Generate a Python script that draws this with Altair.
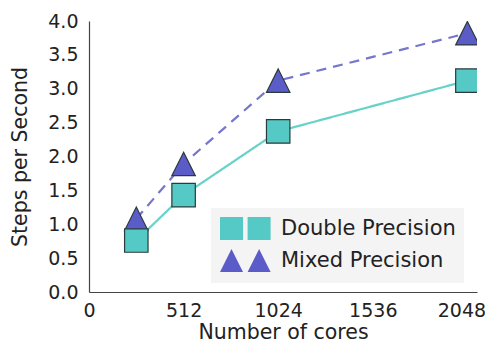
import altair as alt
import pandas as pd

cores = [256, 512, 1024, 2048]
double_precision = [0.76, 1.43, 2.37, 3.12]
mixed_precision = [1.08, 1.89, 3.12, 3.82]
series_names = ["Double Precision", "Mixed Precision"]
x_ticks = [0, 512, 1024, 1536, 2048]
y_ticks = [0.0, 0.5, 1.0, 1.5, 2.0, 2.5, 3.0, 3.5, 4.0]

fill_colors = ["#55c9c5", "#5c5cc9"]
line_colors = ["#66d2c8", "#7676cc"]
marker_paths = ["M-1,-1H1V1H-1Z", "M0,-1L1,1L-1,1Z"]
legend_paths = [
    "M-1,-1H1V1H-1Z M1.4,-1H3.4V1H1.4Z M1,0H1.4",
    "M0,-1L1,1L-1,1Z M2.4,-1L3.4,1L1.4,1Z M0.5,0H1.3",
]

df = pd.DataFrame({
    "cores": cores * 2,
    "value": double_precision + mixed_precision,
    "series": [series_names[0]] * len(cores) + [series_names[1]] * len(cores),
})

FONT = "DejaVu Sans"
TXT = "#222222"
EDGE = "#2b3a3a"

x_enc = alt.X("cores:Q", scale=alt.Scale(domain=[0, 2100], nice=False, zero=True),
              axis=alt.Axis(values=x_ticks, title="Number of cores", format="d",
                            titleBaseline="alphabetic", titleY=46, labelFlush=False,
                            labelOffset=alt.condition("datum.value == 2048", alt.value(-6), alt.value(0))))
y_enc = alt.Y("value:Q", scale=alt.Scale(domain=[0, 4], nice=False),
              axis=alt.Axis(values=y_ticks, format=".1f", title="Steps per Second",
                            titleX=-59, titleBaseline="bottom", labelFlush=False))

lines = alt.Chart(df).mark_line(strokeWidth=2.2, clip=True).encode(
    x=x_enc, y=y_enc,
    color=alt.Color("series:N", scale=alt.Scale(domain=series_names, range=line_colors), legend=None),
    strokeDash=alt.StrokeDash("series:N", scale=alt.Scale(domain=series_names, range=[[1, 0], [10, 7]]), legend=None),
)

points = alt.Chart(df).mark_point(filled=True, size=550, stroke=EDGE, strokeWidth=1.2,
                                  opacity=1, clip=True).encode(
    x=x_enc, y=y_enc,
    fill=alt.Fill("series:N", scale=alt.Scale(domain=series_names, range=fill_colors), legend=None),
    shape=alt.Shape("series:N", scale=alt.Scale(domain=series_names, range=marker_paths), legend=None),
    order=alt.Order("series:N", sort="descending"),
)

legend_layer = alt.Chart(df).transform_filter("false").mark_point(
    filled=True, size=529, strokeWidth=1.2, opacity=1
).encode(
    x=x_enc, y=y_enc,
    stroke=alt.value(EDGE),
    fill=alt.Fill("series:N", scale=alt.Scale(domain=series_names, range=fill_colors),
                  legend=alt.Legend(title=None)),
    shape=alt.Shape("series:N", scale=alt.Scale(domain=series_names, range=legend_paths),
                    legend=alt.Legend(title=None)),
)

chart = alt.layer(lines, points, legend_layer).resolve_scale(
    shape="independent", fill="independent"
).properties(
    width=388, height=271,
    autosize=alt.AutoSizeParams(type="none"),
    padding={"left": 81, "top": 13, "right": 8, "bottom": 50},
).configure_view(stroke=None).configure_axis(
    grid=False, ticks=False, domainColor="#444444", domainWidth=1.2,
    labelFont=FONT, labelFontSize=19, labelColor=TXT,
    titleFont=FONT, titleFontSize=20.5, titleColor=TXT, titleFontWeight="normal",
).configure_axisX(labelPadding=9).configure_axisY(labelPadding=11).configure_legend(
    orient="none", legendX=122, legendY=187, fillColor="#f4f4f4", padding=8,
    labelFont=FONT, labelFontSize=21, labelColor=TXT, labelOffset=37, labelLimit=400,
    symbolSize=529, symbolStrokeColor=EDGE, symbolStrokeWidth=1.2, symbolOpacity=1,
    rowPadding=3, cornerRadius=0,
)

chart.save("out.html", embed_options={"renderer": "svg", "actions": False})
